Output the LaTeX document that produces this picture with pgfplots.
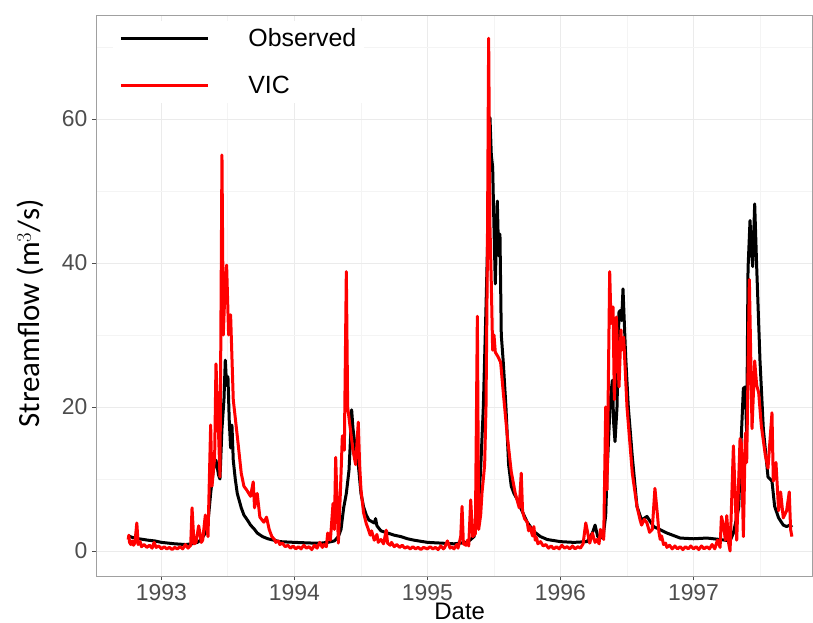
\documentclass[border=0pt]{standalone}
\usepackage{pgfplots}
\pgfplotsset{compat=1.18}
\usepackage{fontspec}
\setmainfont{Liberation Sans}
\newfontfamily\carlito{Carlito}
\definecolor{gridmaj}{HTML}{EBEBEB}
\definecolor{gridmin}{HTML}{F4F4F4}
\definecolor{ticklab}{HTML}{4D4D4D}
\definecolor{framec}{HTML}{A0A0A0}
\definecolor{vicred}{HTML}{FF0000}
\pgfplotstableread{
x y
1992.75 2.1
1992.78 1.9
1992.83 1.7
1992.90 1.5
1992.95 1.4
1993.00 1.2
1993.05 1.1
1993.10 1.0
1993.18 0.9
1993.23 1.0
1993.27 1.2
1993.30 1.6
1993.33 2.5
1993.35 4
1993.37 8
1993.39 11.3
1993.41 12.6
1993.43 10.5
1993.44 10
1993.455 17
1993.47 21
1993.48 26.5
1993.49 23
1993.50 24.2
1993.51 18
1993.52 14.3
1993.53 17.5
1993.54 12.6
1993.555 10
1993.57 8
1993.60 6
1993.62 5
1993.65 4.2
1993.67 3.6
1993.70 3
1993.72 2.5
1993.76 2
1993.80 1.7
1993.89 1.3
1994.00 1.2
1994.14 1.1
1994.20 1.1
1994.25 1.2
1994.30 1.4
1994.33 2
1994.35 3
1994.37 6
1994.39 8
1994.41 11.2
1994.42 15
1994.43 19.6
1994.44 17
1994.46 14
1994.48 12
1994.50 8
1994.52 6.1
1994.54 5
1994.56 4.3
1994.60 3.9
1994.61 4.5
1994.62 3.5
1994.65 2.8
1994.70 2.5
1994.75 2.2
1994.80 2
1994.85 1.7
1994.90 1.5
1995.00 1.2
1995.10 1.1
1995.20 1.0
1995.30 1.2
1995.35 2
1995.38 5
1995.40 11.4
1995.42 20
1995.44 33.8
1995.455 45
1995.47 60.2
1995.48 55
1995.49 53.3
1995.50 45
1995.51 37.1
1995.525 48.6
1995.535 41
1995.545 44
1995.555 30
1995.57 26.2
1995.59 20
1995.61 12
1995.63 9
1995.65 8
1995.68 7
1995.70 6
1995.73 4.8
1995.75 4
1995.80 2.7
1995.85 2
1995.90 1.6
1996.00 1.3
1996.10 1.2
1996.20 1.3
1996.24 2.5
1996.26 3.6
1996.28 2
1996.32 1.8
1996.34 5
1996.35 10.8
1996.375 21
1996.39 23.7
1996.40 17.7
1996.41 15.2
1996.425 20
1996.44 33.2
1996.45 33.4
1996.46 32
1996.47 36.4
1996.49 27
1996.51 20
1996.54 13.1
1996.575 6.2
1996.61 4.3
1996.65 4.8
1996.70 3.4
1996.80 2.5
1996.90 1.8
1997.00 1.7
1997.10 1.8
1997.20 1.6
1997.275 1.4
1997.30 2.5
1997.34 6
1997.355 14
1997.375 22.6
1997.39 22.8
1997.40 16
1997.41 39.2
1997.425 45.9
1997.435 42
1997.445 39.5
1997.46 48.2
1997.475 39.5
1997.50 26.4
1997.525 17
1997.56 10.3
1997.59 9.7
1997.61 6.2
1997.64 4.6
1997.675 3.6
1997.70 3.4
1997.725 3.6
1997.74 3.3
}\obs
\pgfplotstableread{
x y
1992.75 1.6
1992.755 2.2
1992.76 1.2
1992.77 0.9
1992.78 1.4
1992.79 0.8
1992.80 1.1
1992.815 3.9
1992.825 0.9
1992.84 1.3
1992.85 0.6
1992.87 0.9
1992.89 0.5
1992.91 0.8
1992.93 0.4
1992.945 1.2
1992.96 0.5
1992.98 0.7
1993.00 0.3
1993.02 0.6
1993.04 0.3
1993.06 0.5
1993.08 0.2
1993.10 0.5
1993.12 0.3
1993.14 0.6
1993.16 0.3
1993.18 0.9
1993.20 0.4
1993.22 0.8
1993.23 6
1993.245 1
1993.26 1.2
1993.28 3.5
1993.30 1.2
1993.31 1.5
1993.33 5
1993.35 2
1993.37 17.5
1993.38 9
1993.40 13
1993.41 26
1993.43 16
1993.44 10.3
1993.455 55
1993.465 30
1993.475 35
1993.49 39.7
1993.505 30
1993.52 32.8
1993.54 21
1993.57 16
1993.60 10.8
1993.62 9
1993.64 8.5
1993.67 7.6
1993.69 9.6
1993.70 6
1993.72 8
1993.74 4.7
1993.77 4
1993.79 4.7
1993.81 3
1993.83 2
1993.85 1.6
1993.86 1.2
1993.88 1.4
1993.89 0.9
1993.91 1.1
1993.93 0.6
1993.95 0.8
1993.97 0.4
1993.99 0.7
1994.01 0.3
1994.03 0.6
1994.05 0.3
1994.07 0.8
1994.09 0.4
1994.11 0.6
1994.13 0.2
1994.15 0.8
1994.17 0.4
1994.19 1.2
1994.21 0.5
1994.22 0.9
1994.24 0.6
1994.25 2.5
1994.27 1.5
1994.29 6.6
1994.30 3
1994.31 13
1994.33 1.1
1994.345 8
1994.36 16
1994.375 14
1994.39 38.8
1994.40 20
1994.42 17
1994.44 14
1994.46 12
1994.48 17.9
1994.49 12
1994.50 8.5
1994.52 5.3
1994.54 3.8
1994.55 3.3
1994.57 2.2
1994.58 2.8
1994.60 1.5
1994.62 2.3
1994.63 1.2
1994.65 1.6
1994.67 1.0
1994.69 2.9
1994.70 1.1
1994.72 0.8
1994.73 1.2
1994.75 0.6
1994.77 0.9
1994.79 0.5
1994.81 0.8
1994.83 0.4
1994.85 0.6
1994.87 0.3
1994.89 0.6
1994.91 0.3
1994.93 0.5
1994.95 0.2
1994.97 0.5
1995.00 0.3
1995.02 0.6
1995.04 0.3
1995.06 0.5
1995.08 0.2
1995.10 0.7
1995.12 0.3
1995.13 0.5
1995.15 1.4
1995.17 0.4
1995.18 0.6
1995.20 0.3
1995.22 0.9
1995.23 0.4
1995.25 2
1995.26 6.2
1995.27 1
1995.29 0.8
1995.30 1.5
1995.31 0.7
1995.325 7.1
1995.34 2
1995.36 2.4
1995.375 32.6
1995.385 3
1995.40 5
1995.41 8.1
1995.42 10
1995.43 12
1995.44 20
1995.45 40
1995.46 71.2
1995.47 45
1995.48 37.1
1995.49 27.9
1995.50 30
1995.51 27.6
1995.53 27
1995.55 26.2
1995.57 22
1995.60 16
1995.63 11
1995.66 8
1995.69 6
1995.705 10.8
1995.715 5.5
1995.73 4.5
1995.75 4
1995.76 2.8
1995.77 3.4
1995.79 2.1
1995.80 3.4
1995.81 1.5
1995.82 1.9
1995.83 1.0
1995.85 1.3
1995.87 0.7
1995.89 0.9
1995.91 0.4
1995.93 0.7
1995.95 0.3
1995.97 0.6
1995.99 0.3
1996.01 0.8
1996.03 0.4
1996.05 0.6
1996.07 0.3
1996.09 0.7
1996.11 0.3
1996.13 0.6
1996.15 0.4
1996.17 1.0
1996.19 3.9
1996.21 2
1996.22 1.1
1996.24 2.5
1996.26 1.2
1996.275 1.6
1996.29 1.0
1996.30 3
1996.325 1.6
1996.34 20
1996.35 8.5
1996.37 38.8
1996.38 31.6
1996.395 33.9
1996.405 21
1996.42 32.5
1996.44 22.8
1996.455 30.7
1996.46 27.9
1996.475 29.7
1996.50 20
1996.54 10.8
1996.575 6.2
1996.60 4.2
1996.61 3.6
1996.63 4.4
1996.65 3.9
1996.67 2.6
1996.69 3
1996.71 8.7
1996.73 4.8
1996.74 2.6
1996.75 1.6
1996.76 2.1
1996.775 0.9
1996.79 1.1
1996.80 0.5
1996.82 0.8
1996.84 0.3
1996.86 0.7
1996.88 0.3
1996.90 0.6
1996.92 0.2
1996.94 0.6
1996.96 0.3
1996.98 0.7
1997.00 0.3
1997.02 0.6
1997.04 0.2
1997.06 0.7
1997.08 0.3
1997.10 0.6
1997.12 0.3
1997.14 0.9
1997.16 0.3
1997.18 1.5
1997.20 0.5
1997.21 4.8
1997.225 3.6
1997.24 1.5
1997.25 4.9
1997.265 1
1997.275 0
1997.30 14.6
1997.325 1.5
1997.35 15.6
1997.36 14.9
1997.375 2
1997.39 16.4
1997.40 12.3
1997.42 37.7
1997.44 17
1997.46 26.4
1997.475 23
1997.49 22
1997.51 17.4
1997.54 13.3
1997.56 11.5
1997.59 19.2
1997.60 9.7
1997.62 12.3
1997.64 5.6
1997.655 8.2
1997.675 4.6
1997.70 5.6
1997.72 8.2
1997.73 3
1997.74 2
}\vic
\begin{document}
\begin{tikzpicture}
\path[use as bounding box] (-96bp,-47bp) rectangle (717bp,576bp);
\begin{axis}[
  at={(0,0)}, anchor=south west,
  scale only axis, width=716bp, height=561bp,
  xmin=1992.508, xmax=1997.891, ymin=-3.47, ymax=74.44,
  xtick={1993,1994,1995,1996,1997},
  xticklabels={1993,1994,1995,1996,1997},
  ytick={0,20,40,60},
  minor xtick={1992.5,1993.5,1994.5,1995.5,1996.5,1997.5},
  minor ytick={10,30,50,70},
  grid=both,
  major grid style={draw=gridmaj, line width=0.9bp},
  minor grid style={draw=gridmin, line width=0.9bp},
  minor tick length=0pt,
  major tick length=4bp,
  tick align=outside,
  tick pos=left,
  tick style={draw=ticklab, line width=0.9bp},
  axis line style={draw=framec, line width=0.9bp},
  /pgf/number format/assume math mode=true,
  ticklabel style={font=\fontsize{23}{27}\selectfont, text=ticklab},
  xticklabel style={yshift=-1bp},
  yticklabel style={xshift=-1bp},
  xlabel={Date},
  xlabel style={at={(axis description cs:0.508,-0.077)}, anchor=base, font=\fontsize{24}{28}\selectfont},
  ylabel={Streamflow (m$^{3}$/s)},
  ylabel style={at={(axis description cs:-0.091,0.468)}, anchor=center, rotate=0, font=\carlito\fontsize{31}{36}\selectfont},
  legend style={at={(axis description cs:0.024,0.99)}, anchor=north west, draw=none, fill=white,
    font=\fontsize{25}{30}\selectfont, row sep=24bp, column sep=37bp, inner xsep=6bp, inner ysep=6bp},
  legend cell align=left,
  legend image code/.code={\draw[#1] (0bp,0bp) -- (87bp,0bp);},
  every axis plot/.append style={line width=3bp, line join=round},
]
\addplot[black, no markers] table[x=x, y=y] {\obs};
\addlegendentry{Observed}
\addplot[vicred, no markers] table[x=x, y=y] {\vic};
\addlegendentry{VIC}
\end{axis}
\end{tikzpicture}
\end{document}
